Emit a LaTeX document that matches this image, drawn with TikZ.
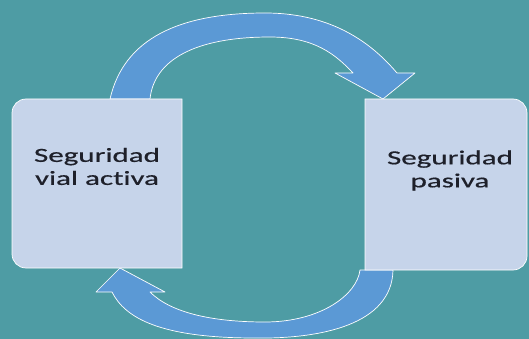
\documentclass[tikz,border=0pt]{standalone}
\usepackage{fontspec}
\newfontfamily\boxfont[FakeStretch=1.55, FakeBold=0.6, Ligatures=NoCommon]{Carlito}
\definecolor{seabg}{RGB}{78,156,164}
\definecolor{arrowblue}{RGB}{91,153,213}
\definecolor{panelblue}{RGB}{198,212,234}
\definecolor{inkdark}{RGB}{30,32,42}

\begin{document}
\begin{tikzpicture}[x=1pt, y=-1pt]
	\tikzset{slot/.style={inner sep=0pt, outer sep=0pt},
		panel/.style={fill=panelblue, draw=white, line width=.7pt},
		bendarrow/.style={fill=arrowblue, draw=white, line width=.7pt, line join=round},
		caption/.style={font=\boxfont\fontsize{20}{23}\selectfont, text=inkdark, align=center}}
	
	\fill[seabg] (0,0) rectangle (529,339);
	\useasboundingbox (0,0) rectangle (529,339);
	
	\node[slot, minimum width=170pt, minimum height=169pt] (activa) at (97,183.5) {};
	\node[slot, minimum width=162pt, minimum height=171pt] (pasiva) at (446,184.5) {};
	
	% arrow activa -> pasiva (top)
	\filldraw[bendarrow] ([xshift=98pt]activa.north west) .. controls (124,38) and (180,13) .. (265,13)
		.. controls (335,13) and (374,46) .. (397,73)
		-- (415,73) -- ([xshift=18pt]pasiva.north west) -- (335,73) -- (353,73)
		.. controls (336,55) and (315,37) .. (270,37)
		.. controls (195,37) and (154,60) .. ([xshift=138pt]activa.north west) -- cycle;
	
	% arrow pasiva -> activa (bottom)
	\filldraw[bendarrow] ([xshift=28pt]pasiva.south west) .. controls (392,325) and (320,339) .. (255,338)
		.. controls (160,338) and (125,318) .. (112,292)
		-- (96,292) -- ([xshift=108pt]activa.south west) -- (165,292) -- (150,292)
		.. controls (170,312) and (210,322) .. (265,322)
		.. controls (320,322) and (357,295) .. ([xshift=-5pt]pasiva.south west) -- cycle;
	
	% boxes
	\filldraw[panel] (activa.north east) -- ([xshift=14pt]activa.north west) arc[start angle=90, end angle=180, radius=14pt]
		-- ([yshift=14pt]activa.south west) arc[start angle=180, end angle=270, radius=14pt] -- (activa.south east) -- cycle;
	\filldraw[panel] (pasiva.north west) -- ([xshift=-14pt]pasiva.north east) arc[start angle=90, end angle=0, radius=14pt]
		-- ([yshift=14pt]pasiva.south east) arc[start angle=0, end angle=-90, radius=14pt] -- (pasiva.south west) -- cycle;
	
	\node[caption] (activatxt) at ([yshift=17pt]activa.center) {Seguridad\\vial activa};
	\node[caption] (pasivatxt) at ([xshift=4pt, yshift=14pt]pasiva.center) {Seguridad\\pasiva};
	
\end{tikzpicture}
\end{document}
